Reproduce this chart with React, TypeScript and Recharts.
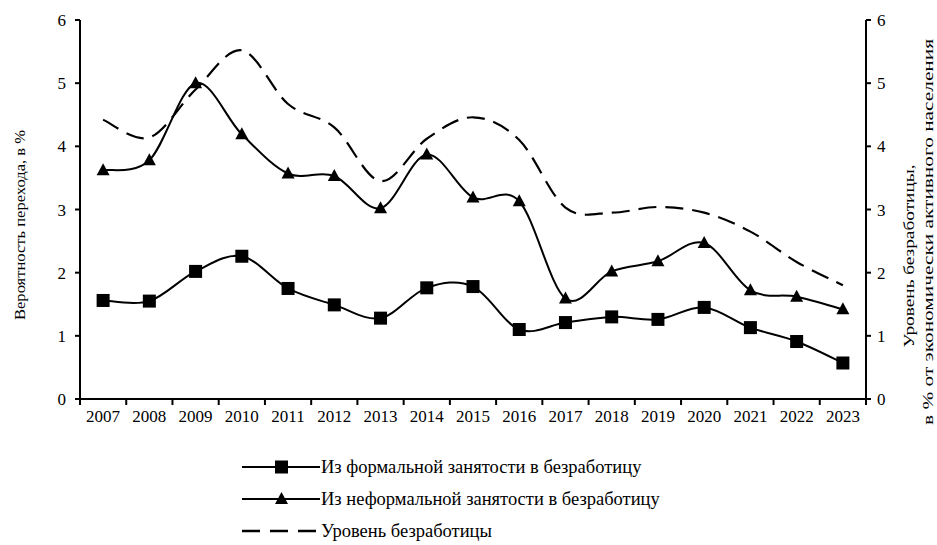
import React from 'react';
import { LineChart, Line, XAxis, YAxis } from 'recharts';

const years = ['2007','2008','2009','2010','2011','2012','2013','2014','2015','2016','2017','2018','2019','2020','2021','2022','2023'];
const formal = [1.56, 1.55, 2.02, 2.26, 1.75, 1.49, 1.28, 1.76, 1.78, 1.10, 1.21, 1.30, 1.26, 1.45, 1.13, 0.91, 0.57];
const informal = [3.62, 3.78, 5.00, 4.19, 3.57, 3.53, 3.02, 3.87, 3.19, 3.13, 1.59, 2.02, 2.18, 2.47, 1.72, 1.62, 1.42];
const unemployment = [4.42, 4.14, 4.90, 5.52, 4.67, 4.30, 3.45, 4.12, 4.46, 4.10, 3.03, 2.95, 3.04, 2.95, 2.65, 2.17, 1.80];
const yTicks = [0, 1, 2, 3, 4, 5, 6];

const legendLabels = [
  'Из формальной занятости в безработицу',
  'Из неформальной занятости в безработицу',
  'Уровень безработицы',
];
const leftTitle = 'Вероятность перехода,  в %';
const rightTitle1 = 'Уровень безработицы,';
const rightTitle2 = 'в % от экономически активного населения';

const data = years.map((y, i) => ({ year: y, formal: formal[i], informal: informal[i], unemp: unemployment[i] }));

const W = 937;
const H = 445;
const PLOT_LEFT = 80;
const PLOT_RIGHT = 866;
const PLOT_TOP = 20;
const PLOT_BOTTOM = 399;
const HALF_BAND = (PLOT_RIGHT - PLOT_LEFT) / years.length / 2;
const SERIF = 'Liberation Serif';

// Excel-like smoothing (Catmull-Rom, 1/6 control points)
const excelCurve: any = (context: any) => {
  let pts: number[][] = [];
  return {
    areaStart() {},
    areaEnd() {},
    lineStart() { pts = []; },
    point(x: number, y: number) { pts.push([+x, +y]); },
    lineEnd() {
      const n = pts.length;
      if (!n) return;
      context.moveTo(pts[0][0], pts[0][1]);
      for (let i = 0; i < n - 1; i++) {
        const p0 = pts[i - 1] || pts[i];
        const p1 = pts[i];
        const p2 = pts[i + 1];
        const p3 = pts[i + 2] || pts[i + 1];
        context.bezierCurveTo(
          p1[0] + (p2[0] - p0[0]) / 6, p1[1] + (p2[1] - p0[1]) / 6,
          p2[0] - (p3[0] - p1[0]) / 6, p2[1] - (p3[1] - p1[1]) / 6,
          p2[0], p2[1]
        );
      }
    },
  };
};

const SquareDot = (props: any) => {
  const { cx, cy, index } = props;
  if (cx == null || cy == null) return <g key={`s${index}`} />;
  return <rect key={`s${index}`} x={cx - 6.5} y={cy - 6.5} width={13} height={13} fill="#000" />;
};

const TriangleDot = (props: any) => {
  const { cx, cy, index } = props;
  if (cx == null || cy == null) return <g key={`t${index}`} />;
  return <polygon key={`t${index}`} points={`${cx},${cy - 7} ${cx + 6.5},${cy + 5} ${cx - 6.5},${cy + 5}`} fill="#000" />;
};

const XTick = (props: any) => {
  const { x, payload, index } = props;
  return (
    <g>
      <line x1={x - HALF_BAND} x2={x - HALF_BAND} y1={PLOT_BOTTOM} y2={PLOT_BOTTOM + 6} stroke="#000" strokeWidth={2} />
      {index === years.length - 1 && (
        <line x1={x + HALF_BAND} x2={x + HALF_BAND} y1={PLOT_BOTTOM} y2={PLOT_BOTTOM + 6} stroke="#000" strokeWidth={2} />
      )}
      <text x={x} y={PLOT_BOTTOM + 23} textAnchor="middle" fontFamily={SERIF} fontSize={17} fill="#000">
        {payload.value}
      </text>
    </g>
  );
};

const LeftTitle = () => (
  <text
    x={19}
    y={225}
    transform="rotate(-90 19 225)"
    textAnchor="middle"
    dominantBaseline="central"
    fontFamily={SERIF}
    fontSize={15.5}
    textLength={190}
    lengthAdjust="spacingAndGlyphs"
    fill="#000"
  >
    {leftTitle}
  </text>
);

const RightTitle = () => (
  <g>
    <text
      x={908}
      y={256}
      transform="rotate(-90 908 256)"
      textAnchor="middle"
      dominantBaseline="central"
      fontFamily={SERIF}
      fontSize={15.5}
      textLength={183}
      lengthAdjust="spacingAndGlyphs"
      fill="#000"
    >
      {rightTitle1}
    </text>
    <text
      x={927}
      y={232}
      transform="rotate(-90 927 232)"
      textAnchor="middle"
      dominantBaseline="central"
      fontFamily={SERIF}
      fontSize={15.5}
      textLength={386}
      lengthAdjust="spacingAndGlyphs"
      fill="#000"
    >
      {rightTitle2}
    </text>
  </g>
);

const LegendRow = ({ kind, label, top }: { kind: number; label: string; top: number }) => (
  <div style={{ position: 'absolute', left: 242, top: top - 10, height: 20, display: 'flex', alignItems: 'center', whiteSpace: 'nowrap' }}>
    <svg width={79} height={20} style={{ display: 'block' }}>
      {kind === 2 ? (
        <line x1={0} x2={78} y1={10} y2={10} stroke="#000" strokeWidth={2.5} strokeDasharray="18 10" />
      ) : (
        <line x1={0} x2={78} y1={10} y2={10} stroke="#000" strokeWidth={2} />
      )}
      {kind === 0 && <rect x={33} y={3.5} width={13} height={13} fill="#000" />}
      {kind === 1 && <polygon points="39.5,3 46,15 33,15" fill="#000" />}
    </svg>
    <span style={{ fontFamily: SERIF, fontSize: 18.5, color: '#000', lineHeight: '20px' }}>{label}</span>
  </div>
);

export default function App() {
  return (
    <div style={{ position: 'absolute', left: 0, top: 0, width: 937, height: 545, background: '#fff' }}>
      <LineChart width={W} height={H} data={data} margin={{ top: PLOT_TOP, right: 0, bottom: 0, left: 0 }}>
        <XAxis
          dataKey="year"
          xAxisId="x"
          height={H - PLOT_BOTTOM}
          padding={{ left: HALF_BAND, right: HALF_BAND }}
          axisLine={{ stroke: '#000', strokeWidth: 2 }}
          tickLine={false}
          tick={<XTick />}
          interval={0}
        />
        <YAxis
          yAxisId="left"
          orientation="left"
          width={PLOT_LEFT}
          domain={[0, 6]}
          ticks={yTicks}
          axisLine={{ stroke: '#000', strokeWidth: 2 }}
          tickLine={{ stroke: '#000', strokeWidth: 2 }}
          tickSize={5}
          tickMargin={9}
          tick={{ fill: '#000', fontFamily: SERIF, fontSize: 17 }}
          label={{ content: () => <LeftTitle /> }}
        />
        <YAxis
          yAxisId="right"
          orientation="right"
          width={W - PLOT_RIGHT}
          domain={[0, 6]}
          ticks={yTicks}
          axisLine={{ stroke: '#000', strokeWidth: 2 }}
          tickLine={{ stroke: '#000', strokeWidth: 2 }}
          tickSize={5}
          tickMargin={6}
          tick={{ fill: '#000', fontFamily: SERIF, fontSize: 17 }}
          label={{ content: () => <RightTitle /> }}
        />
        <Line
          xAxisId="x"
          yAxisId="right"
          dataKey="unemp"
          type={excelCurve}
          stroke="#000"
          strokeWidth={2.2}
          strokeDasharray="18 9"
          dot={false}
          activeDot={false}
          isAnimationActive={false}
        />
        <Line
          xAxisId="x"
          yAxisId="left"
          dataKey="informal"
          type={excelCurve}
          stroke="#000"
          strokeWidth={2}
          dot={TriangleDot}
          activeDot={false}
          isAnimationActive={false}
        />
        <Line
          xAxisId="x"
          yAxisId="left"
          dataKey="formal"
          type={excelCurve}
          stroke="#000"
          strokeWidth={2}
          dot={SquareDot}
          activeDot={false}
          isAnimationActive={false}
        />
      </LineChart>
      {legendLabels.map((l, i) => (
        <LegendRow key={l} kind={i} label={l} top={467 + i * 32} />
      ))}
    </div>
  );
}
